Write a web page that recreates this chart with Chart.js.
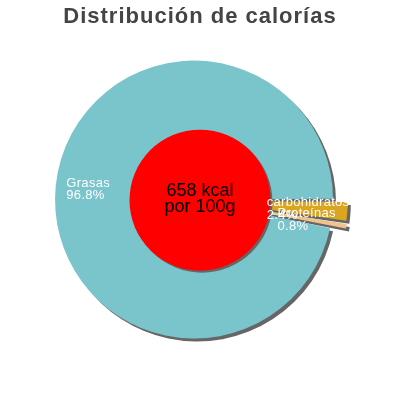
<!DOCTYPE html>
<html>
<head>
<meta charset="utf-8">
<script src="https://cdn.jsdelivr.net/npm/chart.js@4.4.0/dist/chart.umd.min.js"></script>
<style>
    html, body { margin: 0; padding: 0; background: #fff; }
    #wrap { width: 400px; height: 400px; }
</style>
</head>
<body>
<div id="wrap"><canvas id="caloriesChart" width="400" height="400"></canvas></div>
<script>
// Chart data
const sliceLabels = ['carbohidratos', 'Proteínas', 'Grasas'];
const slicePercents = [2.4, 0.8, 96.8];
const sliceColors = ['#daa520', '#f2c28d', '#7ac4cc'];
const sliceOffsets = [32, 32, 24];
const centerLines = ['658 kcal', 'por 100g'];
const chartTitle = 'Distribución de calorías';

const FONT = '"Liberation Sans", Arial, sans-serif';

// Letter spacing for the title (reset before the pie is drawn)
const spacingPlugin = {
    id: 'spacing',
    beforeDraw: function(chart) {
        chart.ctx.letterSpacing = '1px';
    },
    beforeDatasetsDraw: function(chart) {
        chart.ctx.letterSpacing = '0px';
    }
};

// Hard drop shadow under the slices
const shadowPlugin = {
    id: 'pieShadow',
    beforeDatasetsDraw: function(chart) {
        const ctx = chart.ctx;
        const meta = chart.getDatasetMeta(0);
        ctx.save();
        ctx.translate(3, 3);
        ctx.filter = 'brightness(0)';
        ctx.globalAlpha = 0.6;
        meta.data.forEach(arc => arc.draw(ctx));
        ctx.restore();
    }
};

// Red centre disc, energy text and slice labels
const overlayPlugin = {
    id: 'overlay',
    afterDatasetsDraw: function(chart) {
        const ctx = chart.ctx;
        const meta = chart.getDatasetMeta(0);
        const first = meta.data[0];
        const cx = first.x;
        const cy = first.y;
        const r = first.outerRadius * 0.53;

        ctx.save();
        ctx.fillStyle = '#666';
        ctx.beginPath();
        ctx.arc(cx + 2, cy + 2, r, 0, Math.PI * 2);
        ctx.fill();
        ctx.fillStyle = '#ff0000';
        ctx.beginPath();
        ctx.arc(cx, cy, r, 0, Math.PI * 2);
        ctx.fill();

        ctx.fillStyle = '#000';
        ctx.font = '18px ' + FONT;
        ctx.textAlign = 'center';
        ctx.textBaseline = 'middle';
        ctx.fillText(centerLines[0], cx, cy - 9);
        ctx.fillText(centerLines[1], cx, cy + 7);

        // labels: block centred along the mid angle, lines left aligned
        ctx.font = '13px ' + FONT;
        ctx.letterSpacing = '0.3px';
        ctx.fillStyle = '#fff';
        ctx.textAlign = 'left';
        meta.data.forEach((arc, i) => {
            const mid = (arc.startAngle + arc.endAngle) / 2;
            const dist = arc.outerRadius * 0.83;
            const ax = cx + Math.cos(mid) * dist - 2;
            const ay = cy + Math.sin(mid) * dist;
            const lines = [sliceLabels[i], slicePercents[i].toFixed(1) + '%'];
            const w = Math.max(...lines.map(t => ctx.measureText(t).width));
            ctx.fillText(lines[0], ax - w / 2, ay - 6);
            ctx.fillText(lines[1], ax - w / 2, ay + 6.5);
        });
        ctx.restore();
    }
};

document.addEventListener('DOMContentLoaded', function() {
    const canvas = document.getElementById('caloriesChart');

    new Chart(canvas, {
        type: 'pie',
        data: {
            labels: sliceLabels,
            datasets: [{
                data: slicePercents,
                backgroundColor: sliceColors,
                borderWidth: 0,
                offset: sliceOffsets
            }]
        },
        options: {
            responsive: false,
            animation: false,
            events: [],
            rotation: 90,
            radius: 133,
            layout: {
                padding: { bottom: 34 }
            },
            plugins: {
                legend: { display: false },
                tooltip: { enabled: false },
                title: {
                    display: true,
                    text: chartTitle,
                    color: '#444',
                    font: { family: FONT, size: 22, weight: 'bold' },
                    padding: { top: 4, bottom: 4 }
                }
            }
        },
        plugins: [spacingPlugin, shadowPlugin, overlayPlugin]
    });
});
</script>
</body>
</html>
